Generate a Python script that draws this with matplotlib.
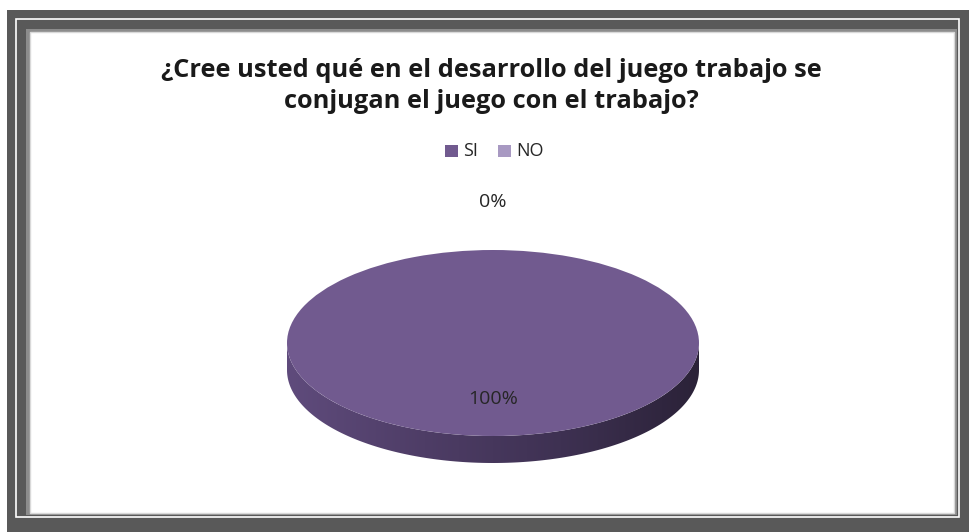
import numpy as np
import matplotlib.pyplot as plt
from matplotlib.patches import Rectangle, Polygon
from matplotlib.colors import LinearSegmentedColormap

categories = ["SI", "NO"]
values = [100, 0]
title = "¿Cree usted qué en el desarrollo del juego trabajo se\nconjugan el juego con el trabajo?"

top_colors = ["#715a8f", "#a899c2"]

plt.rcParams['font.family'] = ['Open Sans', 'DejaVu Sans']

fig = plt.figure(figsize=(9.7, 5.32), dpi=100)

# frame in pixel coords
bg = fig.add_axes([0, 0, 1, 1])
bg.set_xlim(0, 970)
bg.set_ylim(532, 0)
bg.axis('off')
bg.add_patch(Rectangle((7, 10), 963, 522, facecolor="#595959", edgecolor="none"))
bg.add_patch(Rectangle((16, 19), 943, 498, facecolor="none", edgecolor="white", lw=1.2))
bg.add_patch(Rectangle((26, 29), 931, 486, facecolor="#8c8c8c", edgecolor="none"))
bg.add_patch(Rectangle((30, 32), 924, 481, facecolor="white", edgecolor="#d9d9d9", lw=1))

fig.text(0.507, 1 - 86 / 532, title, ha="center", va="center", fontsize=18.3,
         fontweight="bold", color="#1a1a1a", linespacing=1.27)

# legend
leg_y = 1 - 151 / 532
for i, (lab, col) in enumerate(zip(categories, top_colors)):
    x0 = (445 + i * 53) / 970
    fig.patches.append(Rectangle((x0, leg_y - 0.0115), 0.0134, 0.023, transform=fig.transFigure,
                                 facecolor=col, edgecolor="none"))
    fig.text(x0 + 0.019, leg_y, lab, ha="left", va="center", fontsize=13, color="#262626")

# pie axes placed over the ellipse (aspect auto -> elliptical pie)
cx, cy, rx, ry, depth = 493, 343, 206, 93, 27
ax = fig.add_axes([(cx - rx) / 970, 1 - (cy + ry + depth) / 532,
                   2 * rx / 970, (2 * ry + depth) / 532])
ax.axis('off')
d = depth / ry

# side of the cylinder with horizontal gradient
t = np.linspace(np.pi, 2 * np.pi, 200)
xs = np.cos(t)
ys = np.sin(t)
side = np.concatenate([np.column_stack([xs, ys]), np.column_stack([xs[::-1], ys[::-1] - d])])
poly = Polygon(side, closed=True, facecolor="none", edgecolor="none")
ax.add_patch(poly)
grad = np.linspace(0, 1, 256).reshape(1, -1)
cmap = LinearSegmentedColormap.from_list("side", ["#5f4b7c", "#4e3d66", "#3e3152", "#2b2238"])
im = ax.imshow(grad, extent=[-1, 1, -1 - d, 0], aspect='auto', cmap=cmap, zorder=1)
im.set_clip_path(poly)

wedges, _ = ax.pie(values, colors=top_colors, startangle=90, counterclock=True,
                   radius=1, center=(0, 0), wedgeprops={"linewidth": 0})
for w in wedges:
    w.set_zorder(2)

# percentage labels
total = sum(values)
dists = [0.6, 1.52]
for w, v, dist in zip(wedges, values, dists):
    ang = np.deg2rad((w.theta1 + w.theta2) / 2)
    ax.text(dist * np.cos(ang), dist * np.sin(ang), "{:.0f}%".format(100 * v / total),
            ha="center", va="center", fontsize=14, color="#262626", zorder=3)

ax.set_xlim(-1, 1)
ax.set_ylim(-1 - d, 1)
ax.set_aspect('auto')

plt.savefig("out.png", dpi=100)
